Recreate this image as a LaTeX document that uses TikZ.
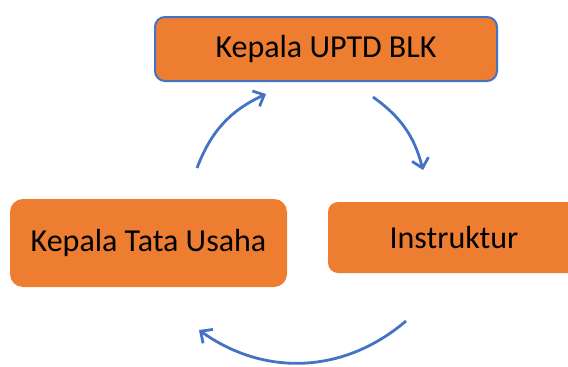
\documentclass[tikz,border=0pt]{standalone}
\usepackage{fontspec}
\setmainfont{Carlito}
\usetikzlibrary{arrows.meta}
\definecolor{orng}{HTML}{ED7D31}
\definecolor{blu}{HTML}{4472C4}
\begin{document}
\begin{tikzpicture}[x=1pt,y=-1pt,
  box/.style={fill=orng, rounded corners=10pt, inner sep=0pt, font=\fontsize{32}{36}\selectfont, text=black},
  cyc/.style={draw=blu, line width=2.8pt, -{Straight Barb[length=9pt,width=17pt,line width=2.8pt]}}]
\useasboundingbox (0,0) rectangle (568,367);
\node[box, draw=blu, line width=2pt, minimum width=342pt, minimum height=64pt] (top) at (326,49) {Kepala UPTD BLK};
\node[box, rounded corners=13pt, minimum width=277pt, minimum height=88pt] (left) at (148.5,243) {Kepala Tata Usaha};
\node[box, minimum width=260pt, minimum height=71pt] (right) at (458,237.5) {};
\node[font=\fontsize{32}{36}\selectfont] (rtext) at (454,238) {Instruktur};
\coordinate (a1s) at (197,168);
\coordinate (a1e) at (266,94);
\coordinate (a2s) at (373,97);
\coordinate (a2e) at (423,170);
\coordinate (a3s) at (406,321);
\coordinate (a3e) at (199,330);
\draw[cyc] (a1s) to[bend left=22] (a1e);
\draw[cyc] (a2s) to[bend left=20] (a2e);
\draw[cyc] (a3s) to[bend left=38] (a3e);
\end{tikzpicture}
\end{document}
